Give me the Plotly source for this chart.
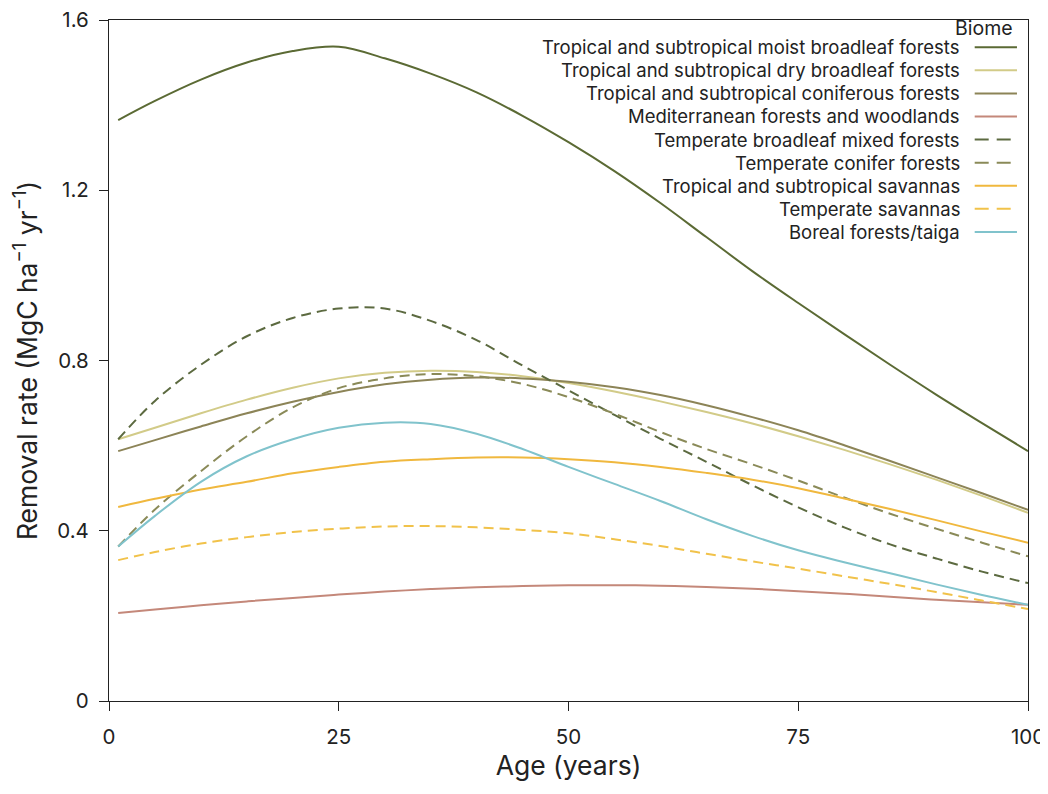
import plotly.graph_objects as go

# ages sampled off the reference curves (years)
age = [1, 5, 10, 15, 20, 25, 30, 35, 40, 45, 50, 55, 60, 65, 70, 75, 80, 85, 90, 95, 100]

# removal rate, MgC ha-1 yr-1
moist_broadleaf = [1.365, 1.41, 1.46, 1.50, 1.527, 1.537, 1.51, 1.474, 1.43, 1.375, 1.313,
                   1.245, 1.17, 1.09, 1.01, 0.935, 0.862, 0.79, 0.72, 0.653, 0.587]
dry_broadleaf = [0.615, 0.642, 0.676, 0.708, 0.736, 0.758, 0.771, 0.776, 0.773, 0.763, 0.747,
                 0.727, 0.704, 0.679, 0.652, 0.622, 0.59, 0.556, 0.52, 0.482, 0.442]
coniferous = [0.587, 0.613, 0.645, 0.676, 0.703, 0.726, 0.744, 0.755, 0.76, 0.758, 0.75,
              0.737, 0.719, 0.695, 0.667, 0.636, 0.601, 0.564, 0.526, 0.488, 0.449]
mediterranean = [0.207, 0.215, 0.225, 0.234, 0.242, 0.25, 0.257, 0.263, 0.267, 0.27, 0.272,
                 0.272, 0.271, 0.268, 0.264, 0.258, 0.252, 0.245, 0.238, 0.232, 0.226]
temp_broadleaf = [0.615, 0.705, 0.79, 0.857, 0.90, 0.922, 0.922, 0.893, 0.848, 0.788, 0.73,
                  0.672, 0.616, 0.562, 0.507, 0.455, 0.408, 0.368, 0.335, 0.304, 0.277]
temp_conifer = [0.363, 0.45, 0.54, 0.622, 0.69, 0.735, 0.758, 0.768, 0.763, 0.745, 0.714,
                0.675, 0.632, 0.592, 0.556, 0.518, 0.478, 0.44, 0.405, 0.372, 0.34]
trop_savanna = [0.456, 0.475, 0.497, 0.515, 0.535, 0.55, 0.562, 0.568, 0.572, 0.572, 0.568,
                0.561, 0.55, 0.536, 0.52, 0.50, 0.476, 0.451, 0.425, 0.398, 0.372]
temp_savanna = [0.331, 0.35, 0.37, 0.385, 0.397, 0.405, 0.41, 0.411, 0.408, 0.402, 0.394,
                0.38, 0.364, 0.346, 0.328, 0.311, 0.293, 0.275, 0.256, 0.236, 0.216]
boreal = [0.363, 0.435, 0.515, 0.575, 0.615, 0.642, 0.654, 0.651, 0.628, 0.592, 0.55,
          0.51, 0.47, 0.427, 0.388, 0.354, 0.326, 0.30, 0.274, 0.249, 0.226]

names = [
    "Tropical and subtropical moist broadleaf forests",
    "Tropical and subtropical dry broadleaf forests",
    "Tropical and subtropical coniferous forests",
    "Mediterranean forests and woodlands",
    "Temperate broadleaf mixed forests",
    "Temperate conifer forests",
    "Tropical and subtropical savannas",
    "Temperate savannas",
    "Boreal forests/taiga",
]
series = [moist_broadleaf, dry_broadleaf, coniferous, mediterranean, temp_broadleaf,
          temp_conifer, trop_savanna, temp_savanna, boreal]
colors = ["#5b6a34", "#d2cb88", "#8c8457", "#c4887a", "#5c6a40",
          "#8a8a58", "#f0b83e", "#f1c24a", "#80c3cc"]
dashes = ["solid", "solid", "solid", "solid", "10px,6px", "10px,6px", "solid", "10px,6px", "solid"]

x_ticks = [0, 25, 50, 75, 100]
y_ticks = [0, 0.4, 0.8, 1.2, 1.6]
y_labels = ["0", "0.4", "0.8", "1.2", "1.6"]

FONT = "Inter, Noto Sans, sans-serif"

fig = go.Figure()
for name, vals, col, dsh in zip(names, series, colors, dashes):
    fig.add_trace(go.Scatter(x=age, y=vals, mode="lines", name=name,
                             line=dict(color=col, width=2, dash=dsh, shape="spline", smoothing=1.0),
                             showlegend=False))

# hand-made legend: text on the left, sample line on the right
anns = [dict(text="Biome", x=0.986, y=0.988, xref="paper", yref="paper",
             xanchor="right", yanchor="middle", showarrow=False,
             font=dict(size=19.5, color="#222", family=FONT))]
shapes = []
for i, (name, col, dsh) in enumerate(zip(names, colors, dashes)):
    yy = 0.96 - i * 0.0339
    anns.append(dict(text=name, x=0.928, y=yy, xref="paper", yref="paper",
                     xanchor="right", yanchor="middle", showarrow=False,
                     font=dict(size=18.5, color="#222", family=FONT)))
    shapes.append(dict(type="line", xref="paper", yref="paper",
                       x0=0.942, x1=0.988, y0=yy, y1=yy,
                       line=dict(color=col, width=2, dash="14px,8px" if dsh != "solid" else "solid")))

fig.update_layout(
    width=1040, height=778,
    margin=dict(l=101, r=20, t=12, b=85),
    paper_bgcolor="white", plot_bgcolor="white",
    font=dict(family=FONT, color="#222"),
    annotations=anns, shapes=shapes,
    xaxis=dict(range=[0, 100], tickvals=x_ticks, ticks="outside", ticklen=9,
               tickcolor="#222", showline=True, linecolor="#222", linewidth=1.2,
               mirror=True, showgrid=False, zeroline=False, automargin=False,
               tickfont=dict(size=20.5), ticklabelstandoff=8, ticklabeloverflow="allow",
               title=dict(text="Age (years)", font=dict(size=26.5), standoff=4)),
    yaxis=dict(range=[0, 1.6], tickvals=y_ticks, ticktext=y_labels, ticks="outside", ticklen=9,
               tickcolor="#222", showline=True, linecolor="#222", linewidth=1.2,
               mirror=True, showgrid=False, zeroline=False, automargin=False,
               tickfont=dict(size=20.5), ticklabelstandoff=6, ticklabeloverflow="allow",
               title=dict(text="Removal rate (MgC ha<sup>−1</sup> yr<sup>−1</sup>)",
                          font=dict(size=26.5), standoff=12)),
)

fig.write_html("out.html")
